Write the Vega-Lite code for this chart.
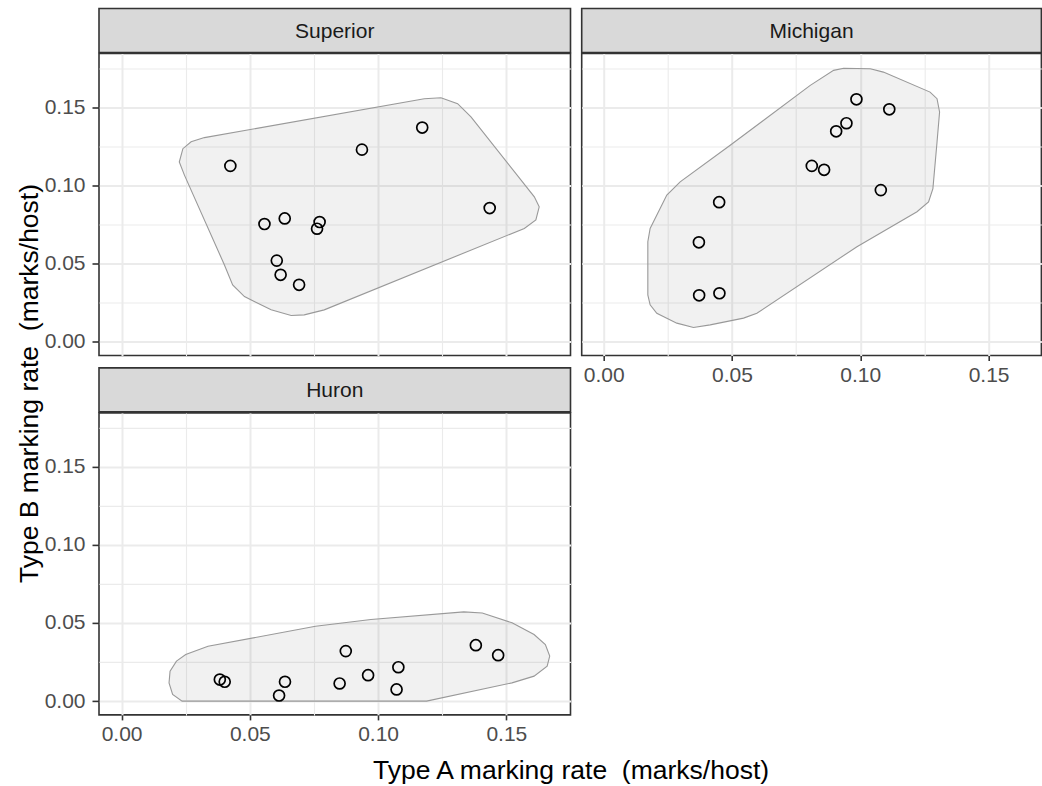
{
  "$schema": "https://vega.github.io/schema/vega-lite/v6.json",
  "usermeta": {"embedOptions": {"actions": false}},
  "background": "white",
  "padding": {"left": 0, "top": 7.5, "right": 0, "bottom": 0},
  "config": {
    "font": "Liberation Sans",
    "axis": {
      "domain": false,
      "labelFont": "Liberation Sans",
      "labelFontSize": 21,
      "labelColor": "#4d4d4d",
      "tickColor": "#333333",
      "tickWidth": 1.6,
      "gridColor": "#ebebeb"
    }
  },
  "datasets": {
    "points": [
      {"lake": "Superior", "a": 0.0424, "b": 0.1125},
      {"lake": "Superior", "a": 0.0937, "b": 0.1229},
      {"lake": "Superior", "a": 0.1172, "b": 0.1370},
      {"lake": "Superior", "a": 0.1435, "b": 0.0855},
      {"lake": "Superior", "a": 0.0557, "b": 0.0753},
      {"lake": "Superior", "a": 0.0636, "b": 0.0789},
      {"lake": "Superior", "a": 0.0772, "b": 0.0766},
      {"lake": "Superior", "a": 0.0762, "b": 0.0723},
      {"lake": "Superior", "a": 0.0605, "b": 0.0519},
      {"lake": "Superior", "a": 0.0620, "b": 0.0428},
      {"lake": "Superior", "a": 0.0692, "b": 0.0364},
      {"lake": "Michigan", "a": 0.0985, "b": 0.1551},
      {"lake": "Michigan", "a": 0.1113, "b": 0.1487},
      {"lake": "Michigan", "a": 0.0946, "b": 0.1398},
      {"lake": "Michigan", "a": 0.0906, "b": 0.1346},
      {"lake": "Michigan", "a": 0.0811, "b": 0.1125},
      {"lake": "Michigan", "a": 0.0859, "b": 0.1100},
      {"lake": "Michigan", "a": 0.1080, "b": 0.0970},
      {"lake": "Michigan", "a": 0.0450, "b": 0.0893},
      {"lake": "Michigan", "a": 0.0371, "b": 0.0636},
      {"lake": "Michigan", "a": 0.0372, "b": 0.0297},
      {"lake": "Michigan", "a": 0.0451, "b": 0.0310},
      {"lake": "Huron", "a": 0.0383, "b": 0.0138},
      {"lake": "Huron", "a": 0.0402, "b": 0.0124},
      {"lake": "Huron", "a": 0.0637, "b": 0.0124},
      {"lake": "Huron", "a": 0.0614, "b": 0.0036},
      {"lake": "Huron", "a": 0.0874, "b": 0.0320},
      {"lake": "Huron", "a": 0.0850, "b": 0.0113},
      {"lake": "Huron", "a": 0.0961, "b": 0.0166},
      {"lake": "Huron", "a": 0.1079, "b": 0.0217},
      {"lake": "Huron", "a": 0.1072, "b": 0.0075},
      {"lake": "Huron", "a": 0.1381, "b": 0.0358},
      {"lake": "Huron", "a": 0.1468, "b": 0.0294}
    ],
    "hulls": [
      {"lake": "Superior", "i": 1, "a": 0.0225, "b": 0.1150},
      {"lake": "Superior", "i": 2, "a": 0.0239, "b": 0.1235},
      {"lake": "Superior", "i": 3, "a": 0.0271, "b": 0.1279},
      {"lake": "Superior", "i": 4, "a": 0.0323, "b": 0.1306},
      {"lake": "Superior", "i": 5, "a": 0.1180, "b": 0.1555},
      {"lake": "Superior", "i": 6, "a": 0.1245, "b": 0.1561},
      {"lake": "Superior", "i": 7, "a": 0.1310, "b": 0.1523},
      {"lake": "Superior", "i": 8, "a": 0.1362, "b": 0.1438},
      {"lake": "Superior", "i": 9, "a": 0.1609, "b": 0.0927},
      {"lake": "Superior", "i": 10, "a": 0.1628, "b": 0.0863},
      {"lake": "Superior", "i": 11, "a": 0.1615, "b": 0.0779},
      {"lake": "Superior", "i": 12, "a": 0.1570, "b": 0.0725},
      {"lake": "Superior", "i": 13, "a": 0.0790, "b": 0.0204},
      {"lake": "Superior", "i": 14, "a": 0.0712, "b": 0.0172},
      {"lake": "Superior", "i": 15, "a": 0.0661, "b": 0.0168},
      {"lake": "Superior", "i": 16, "a": 0.0583, "b": 0.0204},
      {"lake": "Superior", "i": 17, "a": 0.0479, "b": 0.0289},
      {"lake": "Superior", "i": 18, "a": 0.0433, "b": 0.0364},
      {"lake": "Superior", "i": 19, "a": 0.0401, "b": 0.0491},
      {"lake": "Superior", "i": 20, "a": 0.0245, "b": 0.1066},
      {"lake": "Michigan", "i": 1, "a": 0.0935, "b": 0.1750},
      {"lake": "Michigan", "i": 2, "a": 0.1039, "b": 0.1746},
      {"lake": "Michigan", "i": 3, "a": 0.1090, "b": 0.1725},
      {"lake": "Michigan", "i": 4, "a": 0.1272, "b": 0.1597},
      {"lake": "Michigan", "i": 5, "a": 0.1299, "b": 0.1555},
      {"lake": "Michigan", "i": 6, "a": 0.1309, "b": 0.1470},
      {"lake": "Michigan", "i": 7, "a": 0.1299, "b": 0.1276},
      {"lake": "Michigan", "i": 8, "a": 0.1283, "b": 0.0980},
      {"lake": "Michigan", "i": 9, "a": 0.1266, "b": 0.0895},
      {"lake": "Michigan", "i": 10, "a": 0.1221, "b": 0.0832},
      {"lake": "Michigan", "i": 11, "a": 0.0987, "b": 0.0608},
      {"lake": "Michigan", "i": 12, "a": 0.0597, "b": 0.0182},
      {"lake": "Michigan", "i": 13, "a": 0.0545, "b": 0.0151},
      {"lake": "Michigan", "i": 14, "a": 0.0415, "b": 0.0108},
      {"lake": "Michigan", "i": 15, "a": 0.0350, "b": 0.0091},
      {"lake": "Michigan", "i": 16, "a": 0.0285, "b": 0.0119},
      {"lake": "Michigan", "i": 17, "a": 0.0207, "b": 0.0182},
      {"lake": "Michigan", "i": 18, "a": 0.0181, "b": 0.0236},
      {"lake": "Michigan", "i": 19, "a": 0.0172, "b": 0.0300},
      {"lake": "Michigan", "i": 20, "a": 0.0172, "b": 0.0640},
      {"lake": "Michigan", "i": 21, "a": 0.0181, "b": 0.0725},
      {"lake": "Michigan", "i": 22, "a": 0.0246, "b": 0.0938},
      {"lake": "Michigan", "i": 23, "a": 0.0298, "b": 0.1023},
      {"lake": "Michigan", "i": 24, "a": 0.0493, "b": 0.1257},
      {"lake": "Michigan", "i": 25, "a": 0.0805, "b": 0.1640},
      {"lake": "Michigan", "i": 26, "a": 0.0896, "b": 0.1736},
      {"lake": "Huron", "i": 1, "a": 0.0214, "b": 0.0256},
      {"lake": "Huron", "i": 2, "a": 0.0250, "b": 0.0298},
      {"lake": "Huron", "i": 3, "a": 0.0337, "b": 0.0351},
      {"lake": "Huron", "i": 4, "a": 0.0756, "b": 0.0479},
      {"lake": "Huron", "i": 5, "a": 0.0972, "b": 0.0522},
      {"lake": "Huron", "i": 6, "a": 0.1334, "b": 0.0571},
      {"lake": "Huron", "i": 7, "a": 0.1406, "b": 0.0564},
      {"lake": "Huron", "i": 8, "a": 0.1522, "b": 0.0501},
      {"lake": "Huron", "i": 9, "a": 0.1608, "b": 0.0426},
      {"lake": "Huron", "i": 10, "a": 0.1652, "b": 0.0362},
      {"lake": "Huron", "i": 11, "a": 0.1669, "b": 0.0288},
      {"lake": "Huron", "i": 12, "a": 0.1659, "b": 0.0224},
      {"lake": "Huron", "i": 13, "a": 0.1608, "b": 0.0160},
      {"lake": "Huron", "i": 14, "a": 0.1522, "b": 0.0117},
      {"lake": "Huron", "i": 15, "a": 0.1189, "b": 0.0},
      {"lake": "Huron", "i": 16, "a": 0.0236, "b": 0.0},
      {"lake": "Huron", "i": 17, "a": 0.0199, "b": 0.0043},
      {"lake": "Huron", "i": 18, "a": 0.0185, "b": 0.0117},
      {"lake": "Huron", "i": 19, "a": 0.0189, "b": 0.0192}
    ]
  },
  "hconcat": [
    {
      "width": 60,
      "height": 750,
      "data": {"values": [{"t": "Type B marking rate \u00a0(marks/host)"}]},
      "mark": {"type": "text", "angle": 270, "fontSize": 26.5, "color": "#000000", "font": "Liberation Sans", "baseline": "middle", "align": "center"},
      "encoding": {"text": {"field": "t"}}
    },
    {
      "vconcat": [
        {
          "hconcat": [
            {
              "vconcat": [
                {
                  "vconcat": [
                    {
                      "width": 471.5, "height": 44,
                      "view": {"fill": "#d9d9d9", "stroke": "#333333", "strokeWidth": 1.6},
                      "data": {"values": [{"lake": "Superior"}]},
                      "mark": {"type": "text", "fontSize": 21, "color": "#1a1a1a", "font": "Liberation Sans", "baseline": "middle", "dy": 1.5},
                      "encoding": {"text": {"field": "lake"}}
                    },
                    {
                      "width": 471.5, "height": 302,
                      "view": {"fill": "white", "stroke": "#333333", "strokeWidth": 1.6},
                      "encoding": {
                        "x": {"field": "a", "type": "quantitative", "scale": {"domain": [-0.0088, 0.175], "nice": false, "zero": false},
                          "axis": {"title": null, "values": [0, 0.025, 0.05, 0.075, 0.1, 0.125, 0.15], "labels": false, "ticks": false, "grid": true,
                            "gridWidth": {"condition": {"test": "round(datum.value*1000) % 50 !== 0", "value": 1.1}, "value": 2}}},
                        "y": {"field": "b", "type": "quantitative", "scale": {"domain": [-0.0088, 0.1844], "nice": false, "zero": false},
                          "axis": {"title": null, "values": [0, 0.025, 0.05, 0.075, 0.1, 0.125, 0.15, 0.175], "grid": true, "tickSize": 7, "labelPadding": 7,
                            "labelOverlap": false, "labelFlush": false,
                            "labelExpr": "round(datum.value*1000) % 50 === 0 ? format(datum.value, '.2f') : ''",
                            "tickOpacity": {"condition": {"test": "round(datum.value*1000) % 50 !== 0", "value": 0}, "value": 1},
                            "gridWidth": {"condition": {"test": "round(datum.value*1000) % 50 !== 0", "value": 1.1}, "value": 2}}}
                      },
                      "layer": [
                        {
                          "data": {"name": "hulls"},
                          "transform": [{"filter": "datum.lake === 'Superior'"}],
                          "mark": {"type": "line", "interpolate": "linear-closed", "fill": "#000000", "fillOpacity": 0.055, "stroke": "#999999", "strokeWidth": 1.1},
                          "encoding": {"order": {"field": "i", "type": "quantitative"}}
                        },
                        {
                          "data": {"name": "points"},
                          "transform": [{"filter": "datum.lake === 'Superior'"}],
                          "mark": {"type": "point", "shape": "circle", "filled": false, "size": 120, "strokeWidth": 1.7, "stroke": "#000000", "opacity": 1}
                        }
                      ]
                    }
                  ],
                  "spacing": -1.6
                },
                {
                  "vconcat": [
                    {
                      "width": 471.5, "height": 44,
                      "view": {"fill": "#d9d9d9", "stroke": "#333333", "strokeWidth": 1.6},
                      "data": {"values": [{"lake": "Huron"}]},
                      "mark": {"type": "text", "fontSize": 21, "color": "#1a1a1a", "font": "Liberation Sans", "baseline": "middle", "dy": 1.5},
                      "encoding": {"text": {"field": "lake"}}
                    },
                    {
                      "width": 471.5, "height": 302,
                      "view": {"fill": "white", "stroke": "#333333", "strokeWidth": 1.6},
                      "encoding": {
                        "x": {"field": "a", "type": "quantitative", "scale": {"domain": [-0.0088, 0.175], "nice": false, "zero": false},
                          "axis": {"title": null, "values": [0, 0.025, 0.05, 0.075, 0.1, 0.125, 0.15], "grid": true, "tickSize": 5, "labelPadding": 4,
                            "labelOverlap": false, "labelFlush": false,
                            "labelExpr": "round(datum.value*1000) % 50 === 0 ? format(datum.value, '.2f') : ''",
                            "tickOpacity": {"condition": {"test": "round(datum.value*1000) % 50 !== 0", "value": 0}, "value": 1},
                            "gridWidth": {"condition": {"test": "round(datum.value*1000) % 50 !== 0", "value": 1.1}, "value": 2}}},
                        "y": {"field": "b", "type": "quantitative", "scale": {"domain": [-0.0088, 0.1844], "nice": false, "zero": false},
                          "axis": {"title": null, "values": [0, 0.025, 0.05, 0.075, 0.1, 0.125, 0.15, 0.175], "grid": true, "tickSize": 7, "labelPadding": 7,
                            "labelOverlap": false, "labelFlush": false,
                            "labelExpr": "round(datum.value*1000) % 50 === 0 ? format(datum.value, '.2f') : ''",
                            "tickOpacity": {"condition": {"test": "round(datum.value*1000) % 50 !== 0", "value": 0}, "value": 1},
                            "gridWidth": {"condition": {"test": "round(datum.value*1000) % 50 !== 0", "value": 1.1}, "value": 2}}}
                      },
                      "layer": [
                        {
                          "data": {"name": "hulls"},
                          "transform": [{"filter": "datum.lake === 'Huron'"}],
                          "mark": {"type": "line", "interpolate": "linear-closed", "fill": "#000000", "fillOpacity": 0.055, "stroke": "#999999", "strokeWidth": 1.1},
                          "encoding": {"order": {"field": "i", "type": "quantitative"}}
                        },
                        {
                          "data": {"name": "points"},
                          "transform": [{"filter": "datum.lake === 'Huron'"}],
                          "mark": {"type": "point", "shape": "circle", "filled": false, "size": 120, "strokeWidth": 1.7, "stroke": "#000000", "opacity": 1}
                        }
                      ]
                    }
                  ],
                  "spacing": -1.6
                }
              ],
              "spacing": 10.4
            },
            {
              "vconcat": [
                {
                  "width": 459.7, "height": 44,
                  "view": {"fill": "#d9d9d9", "stroke": "#333333", "strokeWidth": 1.6},
                  "data": {"values": [{"lake": "Michigan"}]},
                  "mark": {"type": "text", "fontSize": 21, "color": "#1a1a1a", "font": "Liberation Sans", "baseline": "middle", "dy": 1.5},
                  "encoding": {"text": {"field": "lake"}}
                },
                {
                  "width": 459.7, "height": 302,
                  "view": {"fill": "white", "stroke": "#333333", "strokeWidth": 1.6},
                  "encoding": {
                    "x": {"field": "a", "type": "quantitative", "scale": {"domain": [-0.00857, 0.17058], "nice": false, "zero": false},
                      "axis": {"title": null, "values": [0, 0.025, 0.05, 0.075, 0.1, 0.125, 0.15], "grid": true, "tickSize": 5, "labelPadding": 4,
                        "labelOverlap": false, "labelFlush": false,
                        "labelExpr": "round(datum.value*1000) % 50 === 0 ? format(datum.value, '.2f') : ''",
                        "tickOpacity": {"condition": {"test": "round(datum.value*1000) % 50 !== 0", "value": 0}, "value": 1},
                        "gridWidth": {"condition": {"test": "round(datum.value*1000) % 50 !== 0", "value": 1.1}, "value": 2}}},
                    "y": {"field": "b", "type": "quantitative", "scale": {"domain": [-0.0088, 0.1844], "nice": false, "zero": false},
                      "axis": {"title": null, "values": [0, 0.025, 0.05, 0.075, 0.1, 0.125, 0.15, 0.175], "labels": false, "ticks": false, "grid": true,
                        "gridWidth": {"condition": {"test": "round(datum.value*1000) % 50 !== 0", "value": 1.1}, "value": 2}}}
                  },
                  "layer": [
                    {
                      "data": {"name": "hulls"},
                      "transform": [{"filter": "datum.lake === 'Michigan'"}],
                      "mark": {"type": "line", "interpolate": "linear-closed", "fill": "#000000", "fillOpacity": 0.055, "stroke": "#999999", "strokeWidth": 1.1},
                      "encoding": {"order": {"field": "i", "type": "quantitative"}}
                    },
                    {
                      "data": {"name": "points"},
                      "transform": [{"filter": "datum.lake === 'Michigan'"}],
                      "mark": {"type": "point", "shape": "circle", "filled": false, "size": 120, "strokeWidth": 1.7, "stroke": "#000000", "opacity": 1}
                    }
                  ]
                }
              ],
              "spacing": -1.6
            }
          ],
          "spacing": 8.7
        },
        {
          "width": 944,
          "height": 28,
          "data": {"values": [{"t": "Type A marking rate \u00a0(marks/host)"}]},
          "mark": {"type": "text", "fontSize": 26.5, "color": "#000000", "font": "Liberation Sans", "baseline": "middle", "align": "center"},
          "encoding": {"text": {"field": "t"}}
        }
      ],
      "spacing": 10
    }
  ],
  "spacing": -17
}
